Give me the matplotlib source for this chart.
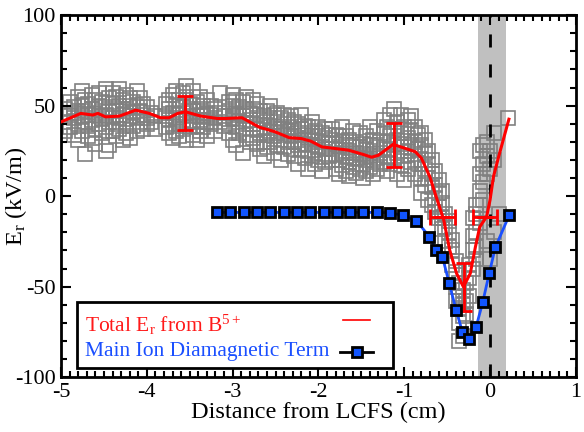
import matplotlib
matplotlib.use("Agg")
import matplotlib.pyplot as plt
from matplotlib.lines import Line2D
from matplotlib.patches import Rectangle
from matplotlib.ticker import MultipleLocator

plt.rcParams['font.family'] = ['Liberation Serif', 'DejaVu Serif']
plt.rcParams['mathtext.fontset'] = 'custom'
plt.rcParams['mathtext.rm'] = 'Liberation Serif'
plt.rcParams['mathtext.it'] = 'Liberation Serif:italic'
plt.rcParams['axes.unicode_minus'] = False

# ---- gray hollow squares: individual B5+ Er measurements ----
scatter_cols = [
    (-4.95, [41, 36, 48]), (-4.90, [45, 52, 38]), (-4.85, [43, 49, 34]),
    (-4.80, [55, 40, 46, 31]), (-4.76, [58, 44, 36, 50]), (-4.72, [47, 23, 41, 53]),
    (-4.68, [39, 51, 45, 33]), (-4.64, [56, 42, 32, 48]), (-4.60, [46, 37, 53, 29]),
    (-4.56, [50, 40, 44, 57]), (-4.52, [43, 35, 52, 47]), (-4.48, [59, 38, 45, 25]),
    (-4.44, [48, 28, 54, 41]), (-4.40, [44, 36, 51, 57]), (-4.36, [47, 33, 40, 55]),
    (-4.32, [59, 43, 50, 37]), (-4.28, [45, 31, 53, 48]), (-4.24, [41, 56, 35, 47]),
    (-4.20, [50, 44, 32, 54]), (-4.16, [46, 39, 52]), (-4.12, [58, 43, 36, 49]),
    (-4.08, [47, 41, 54]), (-4.04, [45, 37, 51]), (-4.00, [49, 43, 40]),
    (-3.95, [41, 46]), (-3.90, [37, 44]),
    (-3.78, [44, 38, 51]), (-3.74, [48, 35, 53, 42]), (-3.70, [46, 39, 56, 32]),
    (-3.66, [50, 43, 36, 58]), (-3.62, [45, 53, 40, 33]), (-3.58, [49, 42, 57, 37]),
    (-3.54, [55, 46, 31, 61]), (-3.50, [44, 51, 38, 48]), (-3.46, [58, 41, 47, 34]),
    (-3.42, [45, 52, 39, 31]), (-3.38, [48, 42, 55, 36]), (-3.34, [44, 50, 38]),
    (-3.30, [46, 41, 53, 33]),
    (-3.25, [45, 40, 50]), (-3.20, [43, 48, 36]), (-3.15, [46, 41, 57]), (-3.10, [44, 39]),
    (-3.04, [47, 40, 52, 35]), (-3.00, [43, 50, 31, 56]), (-2.96, [46, 38, 53, 28]),
    (-2.92, [41, 49, 35, 45]), (-2.88, [44, 52, 37, 24]), (-2.84, [48, 40, 34, 55]),
    (-2.80, [42, 46, 30]),
    (-2.76, [40, 48, 32, 53]), (-2.72, [37, 45, 29, 51]), (-2.68, [42, 35, 47, 26]),
    (-2.64, [38, 44, 30, 22]), (-2.60, [41, 34, 47, 27]), (-2.56, [36, 43, 30, 50]),
    (-2.52, [39, 33, 45, 24]), (-2.48, [35, 41, 28, 46]), (-2.44, [37, 31, 43, 20]),
    (-2.40, [34, 40, 27, 45]), (-2.36, [36, 30, 42, 23]),
    (-2.32, [33, 38, 26, 44]), (-2.28, [30, 36, 22, 41]), (-2.24, [35, 28, 40, 18]),
    (-2.20, [31, 26, 37, 45]), (-2.16, [29, 34, 21, 39]), (-2.12, [32, 25, 38, 15]),
    (-2.08, [28, 35, 22, 41]), (-2.04, [31, 24, 36, 18]), (-2.00, [27, 33, 20, 38]),
    (-1.96, [30, 23, 35, 14]), (-1.92, [26, 32, 19, 37]), (-1.88, [29, 22, 34]),
    (-1.84, [26, 31, 20, 37]), (-1.80, [23, 29, 15, 34]), (-1.76, [27, 20, 33, 12]),
    (-1.72, [24, 30, 17, 38]), (-1.68, [22, 28, 14, 33]), (-1.64, [25, 19, 31, 11]),
    (-1.60, [21, 27, 16, 36]),
    (-1.56, [24, 18, 30, 13]), (-1.52, [21, 27, 15, 35]), (-1.48, [23, 17, 29, 10]),
    (-1.44, [20, 26, 14, 33]), (-1.40, [22, 16, 28, 38]), (-1.36, [19, 25, 12, 31]),
    (-1.32, [21, 27, 15, 36]), (-1.28, [24, 18, 30]),
    (-1.24, [26, 35, 19, 42]), (-1.20, [30, 22, 38, 14]), (-1.16, [33, 26, 45, 18]),
    (-1.12, [28, 37, 48, 21]), (-1.08, [31, 24, 41, 12]), (-1.04, [35, 27, 45, 17]),
    (-1.00, [29, 38, 22, 9]), (-0.96, [32, 25, 42, 15]), (-0.92, [27, 36, 19, 44]),
    (-0.88, [30, 23, 38, 12]), (-0.84, [26, 34, 18]),
    (-0.80, [28, 20, 35, 10, 2]), (-0.76, [24, 15, 31, 6]), (-0.72, [18, 10, 25, -2]),
    (-0.68, [12, 5, 20, -5]), (-0.64, [6, -1, 14, -9]), (-0.60, [2, -6, -12, 9]),
    (-0.56, [-4, -12, -18, 3]), (-0.52, [-10, -17, -25]), (-0.48, [-20, -28, -14]),
    (-0.44, [-30, -38, -24]), (-0.40, [-42, -50, -36, -58]),
    (-0.36, [-55, -62, -48, -70, -80]), (-0.32, [-60, -66, -52, -77]),
    (-0.28, [-58, -65, -48]), (-0.24, [-45, -55, -38]), (-0.20, [-30, -40, -22, -12]),
    (-0.16, [-20, -10, -28, -35, -5]), (-0.12, [-5, 3, -15, 12, 25]),
    (-0.08, [18, 8, -2, 28]), (-0.04, [22, 12, 30, -25]), (0.00, [25, 15, -35]),
    (0.05, [35, 20, -20]), (0.10, [-10]), (0.21, [43]),
]
gx = [x for x, ys in scatter_cols for _ in ys]
gy = [y for _, ys in scatter_cols for y in ys]

# ---- red: Total Er from B5+ ----
rx = [-5.0, -4.77, -4.63, -4.57, -4.48, -4.32, -4.13, -3.97, -3.84, -3.74, -3.64,
      -3.55, -3.37, -3.18, -3.08, -2.89, -2.69, -2.51, -2.34, -2.20, -2.09, -1.96,
      -1.65, -1.49, -1.38, -1.30, -1.13, -0.99, -0.87, -0.80, -0.70, -0.62, -0.54,
      -0.47, -0.39, -0.31, -0.23, -0.17, -0.12, -0.04, 0.0, 0.04, 0.10, 0.22]
ry = [41, 45.7, 44.8, 45.7, 43.8, 44.2, 47.5, 45.7, 43.3, 43.3, 45.7,
      46.6, 44.2, 42.9, 42.9, 43.3, 38.1, 35.6, 32.3, 31.8, 30.4, 27.2,
      25.4, 23.2, 21.5, 22.6, 28.6, 26.4, 24.5, 21, 10.5, -1.5, -13,
      -29.8, -42.7, -50.1, -42.7, -28, -17, -11.4, -2.2, 10.7, 21.7, 42.5]

eb_x = [-3.55, -1.12, -0.556, -0.058, -0.30]
eb_y = [46, 28.3, -11.8, -11.8, -50.1]
eb_xerr = [0, 0, 0.149, 0.143, 0]
eb_yerr = [9.2, 12.2, 0, 0, 13.3]

# ---- blue: main ion diamagnetic term ----
bx = [-3.18, -3.025, -2.87, -2.715, -2.56, -2.405, -2.25, -2.095, -1.94, -1.785,
      -1.63, -1.475, -1.32, -1.165, -1.01, -0.857, -0.706, -0.628, -0.555, -0.477,
      -0.395, -0.322, -0.244, -0.163, -0.085, -0.008, 0.062, 0.224]
by = [-9.0, -9.0, -9.0, -9.0, -9.0, -9.0, -9.0, -9.0, -9.0, -9.0,
      -9.0, -9.0, -9.0, -9.2, -10.7, -13.6, -22.5, -30.0, -33.5, -47.9,
      -63.0, -75.0, -79.0, -72.4, -58.6, -42.4, -28.3, -10.5]

band = (-0.136, 0.186)
labels = [r'Total E$_\mathrm{r}$ from B$^\mathrm{5+}$', 'Main Ion Diamagnetic Term']

RED = '#ff1a1a'
BLUE = '#1a4fff'

fig = plt.figure(figsize=(5.84, 4.32), dpi=100)
ax = fig.add_axes([0.1045, 0.127, 0.8815, 0.838])

ax.axvspan(band[0], band[1], color='#c0c0c0', zorder=0, lw=0)
ax.plot(gx, gy, ls='none', marker='s', ms=9.4, mfc='none', mec='#808080', mew=1.2, zorder=1)
ax.axvline(0, color='black', lw=2, dashes=(4.7, 6.1), zorder=2)
ax.plot(rx, ry, color='red', lw=2.2, zorder=3)
ax.errorbar(eb_x, eb_y, xerr=eb_xerr, yerr=eb_yerr, fmt='none', ecolor='red',
            elinewidth=2, capsize=5.5, capthick=2, zorder=3)
ax.plot(bx, by, color=BLUE, lw=2, marker='s', ms=7, mfc='#1155ff', mec='black',
        mew=2, zorder=4)

ax.set_xlim(-5, 1)
ax.set_ylim(-100, 100)
ax.xaxis.set_major_locator(MultipleLocator(1))
ax.xaxis.set_minor_locator(MultipleLocator(0.1))
ax.yaxis.set_major_locator(MultipleLocator(50))
ax.yaxis.set_minor_locator(MultipleLocator(10))
ax.tick_params(which='both', direction='in', top=True, right=True, width=1.5,
               labelsize=16)
ax.tick_params(which='major', length=7, pad=4)
ax.tick_params(which='minor', length=4)
for s in ax.spines.values():
    s.set_linewidth(2)

ax.set_xlabel('Distance from LCFS (cm)', fontsize=17.5, labelpad=0)
ax.set_ylabel(r'E$_\mathrm{r}$ (kV/m)', fontsize=17.5)
ax.yaxis.set_label_coords(-0.062, 0.5)

# ---- legend drawn by hand (text left, handle right) ----
ax.add_patch(Rectangle((0.031, 0.025), 0.614, 0.182, transform=ax.transAxes,
                       facecolor='white', edgecolor='black', lw=2, zorder=10, clip_on=False))
ax.text(0.0466, 0.125, labels[0], transform=ax.transAxes, color=RED, fontsize=15.5,
        ha='left', va='baseline', zorder=11)
ax.text(0.0466, 0.058, labels[1], transform=ax.transAxes, color=BLUE, fontsize=15.5,
        ha='left', va='baseline', zorder=11)
ax.add_line(Line2D([0.548, 0.600], [0.157, 0.157], transform=ax.transAxes, color='red',
                   lw=1.2, zorder=11))
ax.add_line(Line2D([0.542, 0.606], [0.069, 0.069], transform=ax.transAxes, color='black',
                   lw=2, zorder=11))
ax.add_line(Line2D([0.575], [0.069], transform=ax.transAxes, ls='none', marker='s', ms=7,
                   mfc='#1155ff', mec='black', mew=2, zorder=12))

fig.savefig('out.png', dpi=100)
